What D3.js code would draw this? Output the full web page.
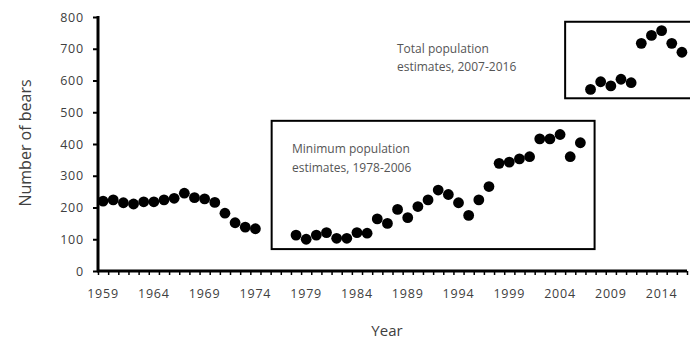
<!DOCTYPE html>
<html>
<head>
<meta charset="utf-8">
<script src="https://cdn.jsdelivr.net/npm/d3@7"></script>
<style>
  body { margin: 0; background: #fff; }
  text { font-family: "Open Sans", sans-serif; fill: #404040; }
</style>
</head>
<body>
<div class="chart"></div>
<script>
var width = 690,
    height = 341;

// years and bear counts
var years1 = [1959, 1960, 1961, 1962, 1963, 1964, 1965, 1966, 1967, 1968, 1969, 1970, 1971, 1972, 1973, 1974];
var bears1 = [220, 224, 215, 211, 218, 218, 224, 229, 245, 231, 227, 216, 182, 152, 138, 133];

var years2 = [1978, 1979, 1980, 1981, 1982, 1983, 1984, 1985, 1986, 1987, 1988, 1989, 1990, 1991, 1992,
              1993, 1994, 1995, 1996, 1997, 1998, 1999, 2000, 2001, 2002, 2003, 2004, 2005, 2006];
var bears2 = [113, 100, 113, 121, 103, 103, 121, 119, 164, 150, 194, 168, 203, 224, 255,
              241, 215, 175, 224, 266, 339, 343, 353, 360, 416, 416, 430, 360, 404];

var years3 = [2007, 2008, 2009, 2010, 2011, 2012, 2013, 2014, 2015, 2016];
var bears3 = [572, 596, 583, 604, 593, 717, 742, 757, 717, 689];

var yTicks = [0, 100, 200, 300, 400, 500, 600, 700, 800];
var xLabels = [1959, 1964, 1969, 1974, 1979, 1984, 1989, 1994, 1999, 2004, 2009, 2014];

// boxes: [year from, year to, bears low, bears high]
var box1 = [1975.6, 2007.4, 69, 473];
var box2 = [2004.5, 2020, 544, 785];
var note1 = ["Minimum population", "estimates, 1978-2006"];
var note2 = ["Total population", "estimates, 2007-2016"];

var points = [];
[[years1, bears1], [years2, bears2], [years3, bears3]].forEach(function (s) {
    s[0].forEach(function (yr, i) { points.push({ year: yr, bears: s[1][i] }); });
});

var padL = 98, padR = 687, padT = 17, padB = 271;

var x = d3.scaleLinear().domain([1958.5, 2016.5]).range([padL, padR]);
var y = d3.scaleLinear().domain([0, 800]).range([padB, padT]);

var svg = d3.select(".chart").append("svg")
    .attr("width", width)
    .attr("height", height);

// boxes round the two later series
[box1, box2].forEach(function (b) {
    svg.append("rect")
        .attr("x", x(b[0]))
        .attr("y", y(b[3]))
        .attr("width", x(b[1]) - x(b[0]))
        .attr("height", y(b[2]) - y(b[3]))
        .attr("fill", "none")
        .attr("stroke", "#000")
        .attr("stroke-width", 2);
});

// y axis
var yAxis = svg.append("g")
    .attr("transform", "translate(" + padL + ",0)")
    .call(d3.axisLeft(y).tickValues(yTicks).tickSize(5).tickPadding(9));
yAxis.select(".domain").attr("stroke-width", 3).attr("d", "M0," + (padT - 1) + "V" + (padB + 1));
yAxis.selectAll(".tick line").attr("stroke-width", 2);
yAxis.selectAll("text")
    .style("font-size", "12.5px")
    .style("letter-spacing", "0.8px")
    .style("fill", "#404040");

// x axis: a tick between each year, labels every fifth year
var xAxis = svg.append("g")
    .attr("transform", "translate(0," + padB + ")")
    .call(d3.axisBottom(x).tickValues(d3.range(1958.5, 2017, 1)).tickSize(4).tickFormat(""));
xAxis.select(".domain").attr("stroke-width", 3).attr("d", "M" + (padL - 1) + ",0H" + padR);
xAxis.selectAll(".tick line").attr("stroke-width", 1.5);

svg.append("g").selectAll("text")
    .data(xLabels)
    .enter()
    .append("text")
    .attr("x", function (d) { return x(d); })
    .attr("y", padB + 27)
    .attr("text-anchor", "middle")
    .style("font-size", "12.5px")
    .style("letter-spacing", "0.8px")
    .text(function (d) { return d; });

// dots
svg.append("g").selectAll("circle")
    .data(points)
    .enter()
    .append("circle")
    .attr("cx", function (d) { return x(d.year); })
    .attr("cy", function (d) { return y(d.bears); })
    .attr("r", 5.4)
    .attr("fill", "#000");

// notes inside the boxes
svg.append("text")
    .attr("x", 292).attr("y", 153)
    .style("font-size", "12px")
    .style("fill", "#555")
    .selectAll("tspan").data(note1).enter().append("tspan")
    .attr("x", 292).attr("dy", function (d, i) { return i ? 19 : 0; })
    .text(function (d) { return d; });

svg.append("text")
    .attr("x", 397).attr("y", 53)
    .style("font-size", "12px")
    .style("fill", "#555")
    .selectAll("tspan").data(note2).enter().append("tspan")
    .attr("x", 397).attr("dy", function (d, i) { return i ? 18 : 0; })
    .text(function (d) { return d; });

// axis titles
svg.append("text")
    .attr("transform", "translate(31,143) rotate(-90)")
    .attr("text-anchor", "middle")
    .style("font-size", "16px")
    .text("Number of bears");

svg.append("text")
    .attr("x", 387)
    .attr("y", 336)
    .attr("text-anchor", "middle")
    .style("font-size", "15px")
    .text("Year");
</script>
</body>
</html>
